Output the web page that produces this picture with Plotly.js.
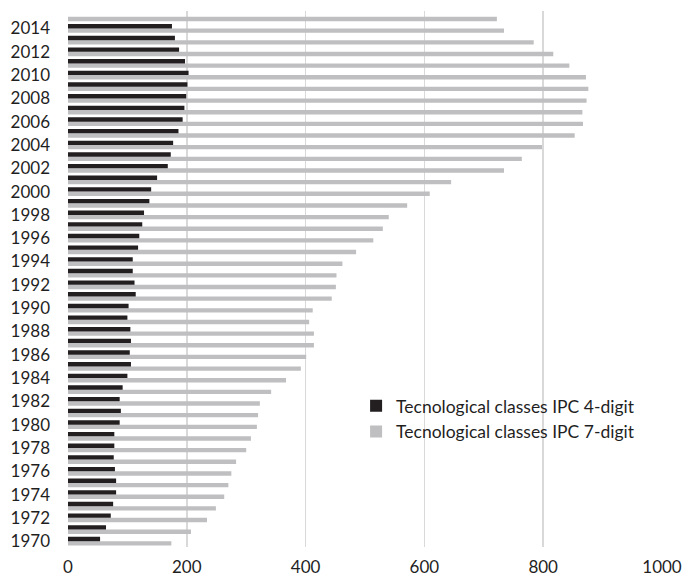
<!DOCTYPE html>
<html>
<head>
<meta charset="utf-8">
<script src="https://cdn.plot.ly/plotly-3.0.1.min.js"></script>
<style>html,body{margin:0;padding:0;background:#fff;}#chart{width:683px;height:579px;}</style>
</head>
<body>
<div id="chart"></div>
<script>
const years = [1970,1971,1972,1973,1974,1975,1976,1977,1978,1979,
  1980,1981,1982,1983,1984,1985,1986,1987,1988,1989,
  1990,1991,1992,1993,1994,1995,1996,1997,1998,1999,
  2000,2001,2002,2003,2004,2005,2006,2007,2008,2009,
  2010,2011,2012,2013,2014,2015];
const ipc4 = [54,64,72,76,81,81,79,77,78,78,
  87,89,87,92,100,106,104,106,105,100,
  102,114,112,109,109,118,120,125,128,137,
  140,150,168,173,177,186,193,196,199,201,
  203,197,187,180,175,null];
const ipc7 = [174,207,234,249,263,270,275,283,300,308,
  318,320,323,342,367,392,401,414,414,406,
  412,444,451,452,462,485,514,530,540,571,
  609,645,734,764,798,853,867,866,873,876,
  872,844,817,784,734,722];
const name4 = 'Tecnological classes IPC 4-digit';
const name7 = 'Tecnological classes IPC 7-digit';
const yTicks = [1970,1972,1974,1976,1978,1980,1982,1984,1986,1988,1990,1992,1994,1996,1998,2000,2002,2004,2006,2008,2010,2012,2014];

const traces = [
  {type:'bar', orientation:'h', y:years, x:ipc7, name:name7, legendrank:2,
   legendgroup:'b', marker:{color:'#bfbfc1'}},
  {type:'bar', orientation:'h', y:years, x:ipc4, name:name4, legendrank:1,
   legendgroup:'a', marker:{color:'#231f20'}}
];
const layout = {
  width:683, height:579,
  margin:{l:68, r:21, t:11, b:32},
  paper_bgcolor:'#fff', plot_bgcolor:'#fff',
  font:{family:'Lato, sans-serif', size:17, color:'#1f1f1f'},
  barmode:'group', bargap:0.25, bargroupgap:0,
  showlegend:true,
  legend:{x:0.485, y:0.297, xanchor:'left', yanchor:'top', bgcolor:'rgba(0,0,0,0)',
    font:{size:17.5, color:'#1f1f1f'}, traceorder:'grouped', tracegroupgap:0},
  xaxis:{range:[0,1000], tickvals:[0,200,400,600,800,1000], showgrid:true,
    gridcolor:'#d9d9d9', gridwidth:1.5, zeroline:false, showline:false,
    ticks:'', ticklabelstandoff:8, fixedrange:true},
  yaxis:{range:[1969.5,2015.5], tickvals:yTicks, showgrid:false, zeroline:false,
    showline:false, ticks:'', ticklabelstandoff:17, fixedrange:true}
};
Plotly.newPlot('chart', traces, layout, {displayModeBar:false, staticPlot:true});
</script>
</body>
</html>
